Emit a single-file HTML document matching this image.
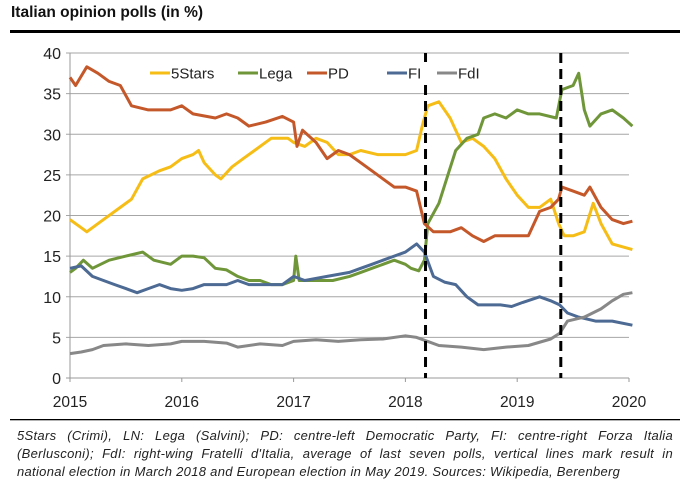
<!DOCTYPE html>
<html><head><meta charset="utf-8"><style>
body{margin:0;background:#fff;width:686px;height:489px;overflow:hidden;font-family:"Liberation Sans",sans-serif;}
.t{position:absolute;left:11px;top:4px;font-size:15.5px;font-weight:bold;color:#111;}
.note{position:absolute;left:17px;top:427px;width:656px;font-size:13px;letter-spacing:0.3px;font-style:italic;line-height:18px;color:#222;}
.ln{text-align:justify;text-align-last:justify;white-space:nowrap;}
.ln.last{text-align-last:left;}
</style></head><body>
<div class="t">Italian opinion polls (in %)</div>
<svg id="c" width="686" height="489" style="position:absolute;left:0;top:0"></svg>
<div class="note">
<div class="ln">5Stars (Crimi), LN: Lega (Salvini); PD: centre-left Democratic Party, FI: centre-right Forza Italia</div>
<div class="ln">(Berlusconi); FdI: right-wing Fratelli d'Italia, average of last seven polls, vertical lines mark result in</div>
<div class="ln last" style="letter-spacing:0.3px">national election in March 2018 and European election in May 2019. Sources: Wikipedia, Berenberg</div>
</div>
<script>
const yTicks=[0,5,10,15,20,25,30,35,40];
const xTicks=[2015,2016,2017,2018,2019,2020];
const elections=[2018.18,2019.39];
const seriesNames=["5Stars","Lega","PD","FI","FdI"];
const seriesColors=["#f6bd16","#70963a","#c4582a","#4c6a93","#888888"];
const pd=[[2015,37],[2015.05,36],[2015.15,38.3],[2015.25,37.5],[2015.35,36.5],[2015.45,36],[2015.55,33.5],[2015.7,33],[2015.9,33],[2016,33.5],[2016.1,32.5],[2016.3,32],[2016.4,32.5],[2016.5,32],[2016.6,31],[2016.75,31.5],[2016.9,32.2],[2017,31.5],[2017.03,28.5],[2017.08,30.5],[2017.2,29],[2017.3,27],[2017.4,28],[2017.5,27.5],[2017.6,26.5],[2017.7,25.5],[2017.8,24.5],[2017.9,23.5],[2018,23.5],[2018.1,23],[2018.17,19],[2018.25,18],[2018.4,18],[2018.5,18.5],[2018.6,17.5],[2018.7,16.8],[2018.8,17.5],[2018.9,17.5],[2019,17.5],[2019.1,17.5],[2019.2,20.5],[2019.3,21],[2019.37,22],[2019.4,23.5],[2019.5,23],[2019.6,22.5],[2019.65,23.5],[2019.75,21],[2019.85,19.5],[2019.95,19],[2020.03,19.3]];
const stars=[[2015,19.5],[2015.1,18.5],[2015.15,18],[2015.3,19.5],[2015.45,21],[2015.55,22],[2015.65,24.5],[2015.8,25.5],[2015.9,26],[2016,27],[2016.1,27.5],[2016.15,28],[2016.2,26.5],[2016.3,25],[2016.35,24.5],[2016.45,26],[2016.55,27],[2016.65,28],[2016.8,29.5],[2016.95,29.5],[2017,29],[2017.1,28.5],[2017.2,29.5],[2017.3,29],[2017.4,27.5],[2017.5,27.5],[2017.6,28],[2017.75,27.5],[2017.9,27.5],[2018,27.5],[2018.1,28],[2018.15,31],[2018.2,33.5],[2018.3,34],[2018.4,32],[2018.5,29],[2018.6,29.5],[2018.7,28.5],[2018.8,27],[2018.9,24.5],[2019,22.5],[2019.1,21],[2019.2,21],[2019.3,22],[2019.37,19],[2019.42,17.5],[2019.5,17.5],[2019.6,18],[2019.68,21.5],[2019.75,19],[2019.85,16.5],[2020.03,15.8]];
const lega=[[2015,13],[2015.05,13.5],[2015.12,14.5],[2015.2,13.5],[2015.35,14.5],[2015.5,15],[2015.65,15.5],[2015.75,14.5],[2015.9,14],[2016,15],[2016.1,15],[2016.2,14.8],[2016.3,13.5],[2016.4,13.3],[2016.5,12.5],[2016.6,12],[2016.7,12],[2016.8,11.5],[2016.9,11.5],[2017,12],[2017.02,15],[2017.05,12],[2017.2,12],[2017.35,12],[2017.5,12.5],[2017.6,13],[2017.7,13.5],[2017.8,14],[2017.9,14.5],[2018,14],[2018.05,13.5],[2018.12,13.2],[2018.17,14.5],[2018.2,19],[2018.3,21.5],[2018.38,25],[2018.45,28],[2018.55,29.5],[2018.65,30],[2018.7,32],[2018.8,32.5],[2018.9,32],[2019,33],[2019.1,32.5],[2019.2,32.5],[2019.35,32],[2019.4,35.5],[2019.5,36],[2019.55,37.5],[2019.6,33],[2019.65,31],[2019.75,32.5],[2019.85,33],[2019.95,32],[2020.03,31]];
const fi=[[2015,13.5],[2015.1,13.8],[2015.2,12.5],[2015.3,12],[2015.4,11.5],[2015.5,11],[2015.6,10.5],[2015.7,11],[2015.8,11.5],[2015.9,11],[2016,10.8],[2016.1,11],[2016.2,11.5],[2016.4,11.5],[2016.5,12],[2016.6,11.5],[2016.8,11.5],[2016.9,11.5],[2017,12.5],[2017.1,12],[2017.3,12.5],[2017.5,13],[2017.6,13.5],[2017.7,14],[2017.8,14.5],[2017.9,15],[2018,15.5],[2018.1,16.5],[2018.17,15.5],[2018.25,12.5],[2018.35,11.8],[2018.45,11.5],[2018.55,10],[2018.65,9],[2018.75,9],[2018.85,9],[2018.95,8.8],[2019.05,9.3],[2019.2,10],[2019.3,9.5],[2019.38,9],[2019.45,8],[2019.55,7.5],[2019.7,7],[2019.85,7],[2020.03,6.5]];
const fdi=[[2015,3],[2015.1,3.2],[2015.2,3.5],[2015.3,4],[2015.5,4.2],[2015.7,4],[2015.9,4.2],[2016,4.5],[2016.2,4.5],[2016.4,4.3],[2016.5,3.8],[2016.7,4.2],[2016.9,4],[2017,4.5],[2017.2,4.7],[2017.4,4.5],[2017.6,4.7],[2017.8,4.8],[2018,5.2],[2018.1,5],[2018.2,4.5],[2018.3,4],[2018.5,3.8],[2018.7,3.5],[2018.9,3.8],[2019.1,4],[2019.3,4.8],[2019.38,5.5],[2019.45,7],[2019.6,7.5],[2019.75,8.5],[2019.85,9.5],[2019.95,10.3],[2020.03,10.5]];
const seriesData=[stars,lega,pd,fi,fdi];

const svg=document.getElementById('c');const NS='http://www.w3.org/2000/svg';
const X0=70,X1=629,Y0=378,Y1=53;
function xs(v){return X0+(v-2015)/5*(X1-X0);}
function ys(v){return Y0-(v/40)*(Y0-Y1);}
function mk(t,a){const e=document.createElementNS(NS,t);for(const k in a)e.setAttribute(k,a[k]);svg.appendChild(e);return e;}
let e=mk('rect',{x:10,y:30,width:670,height:3,fill:'#000'});


e=mk('rect',{x:10,y:419,width:670,height:1.3,fill:'#000'});


yTicks.forEach(v=>{
 const g=mk('line',{x1:X0-4,x2:X1,y1:ys(v),y2:ys(v),stroke:v===0?'#999':'#a6a6a6','stroke-width':1});
 
 
 const t=mk('text',{x:X0-9,y:ys(v)+6,'text-anchor':'end','font-size':16,fill:'#222'});t.textContent=v;
 
 
});
mk('line',{x1:X0,x2:X0,y1:Y1,y2:Y0,stroke:'#999'});
xTicks.forEach(v=>{
 mk('line',{x1:xs(v),x2:xs(v),y1:Y0,y2:Y0+4,stroke:'#999'});
 const t=mk('text',{x:xs(v),y:407,'text-anchor':'middle','font-size':15.5,fill:'#222'});t.textContent=v;
 
 
});
seriesData.forEach((d,i)=>{
 const p=mk('polyline',{points:d.map(q=>xs(q[0]).toFixed(1)+','+ys(q[1]).toFixed(1)).join(' '),fill:'none',stroke:seriesColors[i],'stroke-width':3,'stroke-linejoin':'round'});
 
 
});
elections.forEach(v=>{
 const l=mk('line',{x1:xs(v),x2:xs(v),y1:Y1,y2:Y0,stroke:'#000','stroke-width':3,'stroke-dasharray':'10,6'});
 
 
});
const lx=[150,238,307,387,437];
seriesNames.forEach((n,i)=>{
 const g=document.createElementNS(NS,'g');svg.appendChild(g);
 
 
 const r=mk('rect',{x:lx[i]-2,y:62,width:n.length*9+28,height:20,fill:'#fff'});g.appendChild(r);
 const l=mk('line',{x1:lx[i],x2:lx[i]+20,y1:73,y2:73,stroke:seriesColors[i],'stroke-width':3});g.appendChild(l);
 const t=mk('text',{x:lx[i]+21,y:78.5,'font-size':15,fill:'#222'});t.textContent=n;g.appendChild(t);
});
</script>
</body></html>
